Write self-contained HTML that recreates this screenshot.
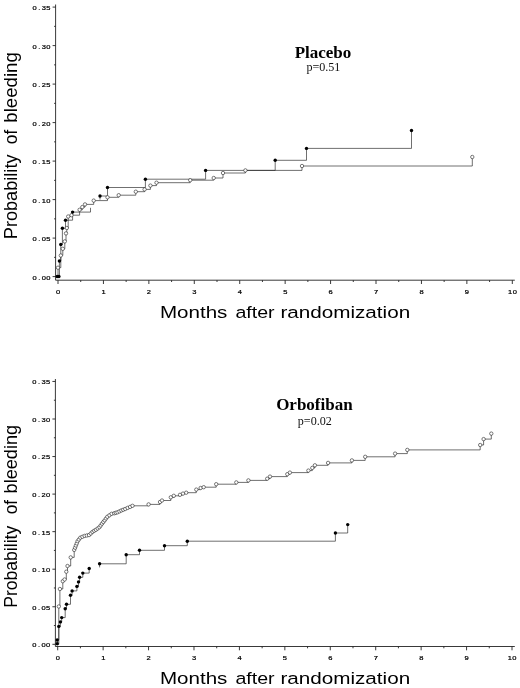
<!DOCTYPE html>
<html lang="en">
<head>
<meta charset="utf-8">
<title>Probability of bleeding: Placebo vs Orbofiban</title>
<style>
html,body{margin:0;padding:0;background:#fff;}
body{width:520px;height:688px;overflow:hidden;}
svg{display:block;filter:blur(.35px);}
.ax{fill:none;stroke:#222;stroke-width:.9;}
.ln{fill:none;stroke:#222;stroke-width:.65;}
.oc{fill:#fff;stroke:#222;stroke-width:.6;}
.fc{fill:#000;stroke:none;}
.tk{font-family:"Liberation Sans",Arial,Helvetica,sans-serif;font-size:5.8px;fill:#000;stroke:#000;stroke-width:.2px;text-anchor:middle;}
.ti{font-family:"Liberation Serif","Times New Roman",serif;font-weight:bold;font-size:17px;fill:#000;}
.pv{font-family:"Liberation Serif","Times New Roman",serif;font-size:12.1px;fill:#111;}
.xl{font-family:"Liberation Sans",Arial,Helvetica,sans-serif;font-size:17.4px;fill:#000;}
.yl{font-family:"Liberation Sans",Arial,Helvetica,sans-serif;font-size:18px;fill:#000;}
</style>
</head>
<body>
<svg width="520" height="688" viewBox="0 0 520 688">
<rect width="520" height="688" fill="#fff"/>
<g id="placebo">
<path class="ax" d="M55.6 4.5V280.2H514.8"/>
<path class="ax" d="M55.6 276.60h-3M55.6 257.35h-1.5M55.6 238.10h-3M55.6 218.85h-1.5M55.6 199.60h-3M55.6 180.35h-1.5M55.6 161.10h-3M55.6 141.85h-1.5M55.6 122.60h-3M55.6 103.35h-1.5M55.6 84.10h-3M55.6 64.85h-1.5M55.6 45.60h-3M55.6 26.35h-1.5M55.6 7.10h-3M58.00 280.2v3.8M80.72 280.2v1.8M103.43 280.2v3.8M126.15 280.2v1.8M148.86 280.2v3.8M171.58 280.2v1.8M194.29 280.2v3.8M217.00 280.2v1.8M239.72 280.2v3.8M262.44 280.2v1.8M285.15 280.2v3.8M307.86 280.2v1.8M330.58 280.2v3.8M353.29 280.2v1.8M376.01 280.2v3.8M398.72 280.2v1.8M421.44 280.2v3.8M444.15 280.2v1.8M466.87 280.2v3.8M489.58 280.2v1.8M512.30 280.2v3.8"/>
<text class="tk" transform="translate(0 279.50) scale(1.3 1)" x="26.62 30.15 33.69 37.23" y="0">0.00</text>
<text class="tk" transform="translate(0 241.00) scale(1.3 1)" x="26.62 30.15 33.69 37.23" y="0">0.05</text>
<text class="tk" transform="translate(0 202.50) scale(1.3 1)" x="26.62 30.15 33.69 37.23" y="0">0.10</text>
<text class="tk" transform="translate(0 164.00) scale(1.3 1)" x="26.62 30.15 33.69 37.23" y="0">0.15</text>
<text class="tk" transform="translate(0 125.50) scale(1.3 1)" x="26.62 30.15 33.69 37.23" y="0">0.20</text>
<text class="tk" transform="translate(0 87.00) scale(1.3 1)" x="26.62 30.15 33.69 37.23" y="0">0.25</text>
<text class="tk" transform="translate(0 48.50) scale(1.3 1)" x="26.62 30.15 33.69 37.23" y="0">0.30</text>
<text class="tk" transform="translate(0 10.00) scale(1.3 1)" x="26.62 30.15 33.69 37.23" y="0">0.35</text>
<text class="tk" transform="translate(0 293.5) scale(1.3 1)" x="44.69" y="0">0</text>
<text class="tk" transform="translate(0 293.5) scale(1.3 1)" x="79.64" y="0">1</text>
<text class="tk" transform="translate(0 293.5) scale(1.3 1)" x="114.58" y="0">2</text>
<text class="tk" transform="translate(0 293.5) scale(1.3 1)" x="149.53" y="0">3</text>
<text class="tk" transform="translate(0 293.5) scale(1.3 1)" x="184.48" y="0">4</text>
<text class="tk" transform="translate(0 293.5) scale(1.3 1)" x="219.42" y="0">5</text>
<text class="tk" transform="translate(0 293.5) scale(1.3 1)" x="254.37" y="0">6</text>
<text class="tk" transform="translate(0 293.5) scale(1.3 1)" x="289.32" y="0">7</text>
<text class="tk" transform="translate(0 293.5) scale(1.3 1)" x="324.26" y="0">8</text>
<text class="tk" transform="translate(0 293.5) scale(1.3 1)" x="359.21" y="0">9</text>
<text class="tk" transform="translate(0 293.5) scale(1.3 1)" x="392.35 395.96" y="0">10</text>
<path class="ln" d="M58.0 276.6H58.0V267.7H60.8V255.5H62.8V248.8H64.8V241.4H66.0V233.4H66.8V228.0H68.2V216.5H71.5V215.2H79.6V209.8H82.3V207.1H85.0V204.4H93.7V200.6H107.5V197.3H118.7V195.2H135.8V191.7H144.6V189.4H150.4V185.6H156.5V182.7H190.2V180.2H213.7V178.0H223.0V173.0H245.4V170.4H302.0V166.0H472.3V157.0"/>
<path class="ln" d="M58.0 276.6H57.2V276.5H58.9V276.5H59.4V261.0H60.8V244.5H62.4V228.2H65.5V220.2H72.6V212.1H90.5V207.8M100.0 199.6V196.0H107.5V187.5H145.4V179.2H205.6V170.4H275.2V160.3H306.5V148.4H411.5V130.5"/>
<circle class="oc" cx="58.0" cy="267.7" r="1.7"/>
<circle class="oc" cx="60.8" cy="255.5" r="1.7"/>
<circle class="oc" cx="62.8" cy="248.8" r="1.7"/>
<circle class="oc" cx="64.8" cy="241.4" r="1.7"/>
<circle class="oc" cx="66.0" cy="233.4" r="1.7"/>
<circle class="oc" cx="66.8" cy="228.0" r="1.7"/>
<circle class="oc" cx="68.2" cy="216.5" r="1.7"/>
<circle class="oc" cx="71.5" cy="215.2" r="1.7"/>
<circle class="oc" cx="79.6" cy="209.8" r="1.7"/>
<circle class="oc" cx="82.3" cy="207.1" r="1.7"/>
<circle class="oc" cx="85.0" cy="204.4" r="1.7"/>
<circle class="oc" cx="93.7" cy="200.6" r="1.7"/>
<circle class="oc" cx="107.5" cy="197.3" r="1.7"/>
<circle class="oc" cx="118.7" cy="195.2" r="1.7"/>
<circle class="oc" cx="135.8" cy="191.7" r="1.7"/>
<circle class="oc" cx="144.6" cy="189.4" r="1.7"/>
<circle class="oc" cx="150.4" cy="185.6" r="1.7"/>
<circle class="oc" cx="156.5" cy="182.7" r="1.7"/>
<circle class="oc" cx="190.2" cy="180.2" r="1.7"/>
<circle class="oc" cx="213.7" cy="178.0" r="1.7"/>
<circle class="oc" cx="223.0" cy="173.0" r="1.7"/>
<circle class="oc" cx="245.4" cy="170.4" r="1.7"/>
<circle class="oc" cx="302.0" cy="166.0" r="1.7"/>
<circle class="oc" cx="472.3" cy="157.0" r="1.7"/>
<circle class="fc" cx="57.2" cy="276.5" r="1.7"/>
<circle class="fc" cx="58.9" cy="276.5" r="1.7"/>
<circle class="fc" cx="59.4" cy="261.0" r="1.7"/>
<circle class="fc" cx="60.8" cy="244.5" r="1.7"/>
<circle class="fc" cx="62.4" cy="228.2" r="1.7"/>
<circle class="fc" cx="65.5" cy="220.2" r="1.7"/>
<circle class="fc" cx="72.6" cy="212.1" r="1.7"/>
<circle class="fc" cx="100.0" cy="196.0" r="1.7"/>
<circle class="fc" cx="107.5" cy="187.5" r="1.7"/>
<circle class="fc" cx="145.4" cy="179.2" r="1.7"/>
<circle class="fc" cx="205.6" cy="170.4" r="1.7"/>
<circle class="fc" cx="275.2" cy="160.3" r="1.7"/>
<circle class="fc" cx="306.5" cy="148.4" r="1.7"/>
<circle class="fc" cx="411.5" cy="130.5" r="1.7"/>
<text class="ti" text-anchor="middle" x="323" y="57.9">Placebo</text>
<text class="pv" text-anchor="middle" x="323.4" y="71.3">p=0.51</text>
<text class="xl" x="159.9" y="318.3" textLength="67.5" lengthAdjust="spacingAndGlyphs">Months</text>
<text class="xl" x="235.4" y="318.3" textLength="39.2" lengthAdjust="spacingAndGlyphs">after</text>
<text class="xl" x="280.4" y="318.3" textLength="129.8" lengthAdjust="spacingAndGlyphs">randomization</text>
<g transform="translate(17.4 239.2) rotate(-90)"><text class="yl" x="0" y="0" textLength="84.7" lengthAdjust="spacingAndGlyphs">Probability</text><text class="yl" x="95" y="0" textLength="14.5" lengthAdjust="spacingAndGlyphs">of</text><text class="yl" x="116.5" y="0" textLength="70.5" lengthAdjust="spacingAndGlyphs">bleeding</text></g>
</g>
<g id="orbofiban">
<path class="ax" d="M55.4 379V646.5H514.8"/>
<path class="ax" d="M55.4 644.30h-3M55.4 625.52h-1.5M55.4 606.75h-3M55.4 587.98h-1.5M55.4 569.20h-3M55.4 550.42h-1.5M55.4 531.65h-3M55.4 512.88h-1.5M55.4 494.10h-3M55.4 475.32h-1.5M55.4 456.55h-3M55.4 437.77h-1.5M55.4 419.00h-3M55.4 400.23h-1.5M55.4 381.45h-3M57.70 646.5v3.8M80.42 646.5v1.8M103.13 646.5v3.8M125.84 646.5v1.8M148.56 646.5v3.8M171.28 646.5v1.8M193.99 646.5v3.8M216.71 646.5v1.8M239.42 646.5v3.8M262.13 646.5v1.8M284.85 646.5v3.8M307.56 646.5v1.8M330.28 646.5v3.8M352.99 646.5v1.8M375.71 646.5v3.8M398.42 646.5v1.8M421.14 646.5v3.8M443.85 646.5v1.8M466.57 646.5v3.8M489.28 646.5v1.8M512.00 646.5v3.8"/>
<text class="tk" transform="translate(0 647.20) scale(1.3 1)" x="26.46 30.00 33.54 37.08" y="0">0.00</text>
<text class="tk" transform="translate(0 609.65) scale(1.3 1)" x="26.46 30.00 33.54 37.08" y="0">0.05</text>
<text class="tk" transform="translate(0 572.10) scale(1.3 1)" x="26.46 30.00 33.54 37.08" y="0">0.10</text>
<text class="tk" transform="translate(0 534.55) scale(1.3 1)" x="26.46 30.00 33.54 37.08" y="0">0.15</text>
<text class="tk" transform="translate(0 497.00) scale(1.3 1)" x="26.46 30.00 33.54 37.08" y="0">0.20</text>
<text class="tk" transform="translate(0 459.45) scale(1.3 1)" x="26.46 30.00 33.54 37.08" y="0">0.25</text>
<text class="tk" transform="translate(0 421.90) scale(1.3 1)" x="26.46 30.00 33.54 37.08" y="0">0.30</text>
<text class="tk" transform="translate(0 384.35) scale(1.3 1)" x="26.46 30.00 33.54 37.08" y="0">0.35</text>
<text class="tk" transform="translate(0 659.7) scale(1.3 1)" x="44.46" y="0">0</text>
<text class="tk" transform="translate(0 659.7) scale(1.3 1)" x="79.41" y="0">1</text>
<text class="tk" transform="translate(0 659.7) scale(1.3 1)" x="114.35" y="0">2</text>
<text class="tk" transform="translate(0 659.7) scale(1.3 1)" x="149.30" y="0">3</text>
<text class="tk" transform="translate(0 659.7) scale(1.3 1)" x="184.25" y="0">4</text>
<text class="tk" transform="translate(0 659.7) scale(1.3 1)" x="219.19" y="0">5</text>
<text class="tk" transform="translate(0 659.7) scale(1.3 1)" x="254.14" y="0">6</text>
<text class="tk" transform="translate(0 659.7) scale(1.3 1)" x="289.08" y="0">7</text>
<text class="tk" transform="translate(0 659.7) scale(1.3 1)" x="324.03" y="0">8</text>
<text class="tk" transform="translate(0 659.7) scale(1.3 1)" x="358.98" y="0">9</text>
<text class="tk" transform="translate(0 659.7) scale(1.3 1)" x="392.12 395.73" y="0">10</text>
<path class="ln" d="M57.7 644.3H58.8V606.5H59.9V589.0H62.8V581.2H64.6V579.5H66.3V571.7H67.5V566.0H70.7V557.4H74.2V549.9H75.1V547.7H75.9V545.5H76.8V543.4H77.6V541.2H78.9V539.5H80.3V537.7H82.4V536.8H84.6V535.9H86.8V535.5H89.0V535.1H90.8V533.5H92.5V531.9H94.2V530.8H95.9V529.8H97.7V528.5H99.4V527.2H100.7V525.5H102.0V523.7H103.3V522.0H104.7V520.3H106.0V518.5H107.3V516.8H109.4V515.3H111.6V513.8H114.2V513.3H115.8V512.8H117.5V512.3H119.4V511.4H121.3V510.5H123.2V509.8H125.2V509.0H127.6V507.9H130.1V506.9H132.5V505.8H148.6V504.4H160.0V502.0H162.0V500.5H170.8V497.3H173.8V495.8H180.0V494.8H183.0V493.6H186.2V492.7H196.3V489.6H200.6V488.0H203.7V487.2H216.2V484.2H236.3V482.4H248.4V480.4H267.2V478.7H270.0V476.6H287.3V474.2H289.9V472.6H308.4V470.6H312.3V467.9H314.9V465.3H328.1V462.9H351.9V460.4H365.2V456.8H395.1V453.6H407.3V449.9H480.2V445.0H483.6V439.1H491.3V433.6"/>
<path class="ln" d="M57.7 644.3H57.2V643.7H57.2V640.0H58.8V626.4H60.4V621.9H61.7V617.6H65.2V608.8H66.5V604.3H70.5V595.2H72.1V590.9H76.9V586.4H78.5V581.9H79.6V577.3H82.8V573.1H89.2V568.5M99.6 567.4V563.8H126.2V554.7H139.5V550.3H164.5V545.7H187.3V541.2H335.4V533.0H347.7V524.6"/>
<circle class="oc" cx="58.8" cy="606.5" r="1.7"/>
<circle class="oc" cx="59.9" cy="589.0" r="1.7"/>
<circle class="oc" cx="62.8" cy="581.2" r="1.7"/>
<circle class="oc" cx="64.6" cy="579.5" r="1.7"/>
<circle class="oc" cx="66.3" cy="571.7" r="1.7"/>
<circle class="oc" cx="67.5" cy="566.0" r="1.7"/>
<circle class="oc" cx="70.7" cy="557.4" r="1.7"/>
<circle class="oc" cx="74.2" cy="549.9" r="1.7"/>
<circle class="oc" cx="75.1" cy="547.7" r="1.7"/>
<circle class="oc" cx="75.9" cy="545.5" r="1.7"/>
<circle class="oc" cx="76.8" cy="543.4" r="1.7"/>
<circle class="oc" cx="77.6" cy="541.2" r="1.7"/>
<circle class="oc" cx="78.9" cy="539.5" r="1.7"/>
<circle class="oc" cx="80.3" cy="537.7" r="1.7"/>
<circle class="oc" cx="82.4" cy="536.8" r="1.7"/>
<circle class="oc" cx="84.6" cy="535.9" r="1.7"/>
<circle class="oc" cx="86.8" cy="535.5" r="1.7"/>
<circle class="oc" cx="89.0" cy="535.1" r="1.7"/>
<circle class="oc" cx="90.8" cy="533.5" r="1.7"/>
<circle class="oc" cx="92.5" cy="531.9" r="1.7"/>
<circle class="oc" cx="94.2" cy="530.8" r="1.7"/>
<circle class="oc" cx="95.9" cy="529.8" r="1.7"/>
<circle class="oc" cx="97.7" cy="528.5" r="1.7"/>
<circle class="oc" cx="99.4" cy="527.2" r="1.7"/>
<circle class="oc" cx="100.7" cy="525.5" r="1.7"/>
<circle class="oc" cx="102.0" cy="523.7" r="1.7"/>
<circle class="oc" cx="103.3" cy="522.0" r="1.7"/>
<circle class="oc" cx="104.7" cy="520.3" r="1.7"/>
<circle class="oc" cx="106.0" cy="518.5" r="1.7"/>
<circle class="oc" cx="107.3" cy="516.8" r="1.7"/>
<circle class="oc" cx="109.4" cy="515.3" r="1.7"/>
<circle class="oc" cx="111.6" cy="513.8" r="1.7"/>
<circle class="oc" cx="114.2" cy="513.3" r="1.7"/>
<circle class="oc" cx="115.8" cy="512.8" r="1.7"/>
<circle class="oc" cx="117.5" cy="512.3" r="1.7"/>
<circle class="oc" cx="119.4" cy="511.4" r="1.7"/>
<circle class="oc" cx="121.3" cy="510.5" r="1.7"/>
<circle class="oc" cx="123.2" cy="509.8" r="1.7"/>
<circle class="oc" cx="125.2" cy="509.0" r="1.7"/>
<circle class="oc" cx="127.6" cy="507.9" r="1.7"/>
<circle class="oc" cx="130.1" cy="506.9" r="1.7"/>
<circle class="oc" cx="132.5" cy="505.8" r="1.7"/>
<circle class="oc" cx="148.6" cy="504.4" r="1.7"/>
<circle class="oc" cx="160.0" cy="502.0" r="1.7"/>
<circle class="oc" cx="162.0" cy="500.5" r="1.7"/>
<circle class="oc" cx="170.8" cy="497.3" r="1.7"/>
<circle class="oc" cx="173.8" cy="495.8" r="1.7"/>
<circle class="oc" cx="180.0" cy="494.8" r="1.7"/>
<circle class="oc" cx="183.0" cy="493.6" r="1.7"/>
<circle class="oc" cx="186.2" cy="492.7" r="1.7"/>
<circle class="oc" cx="196.3" cy="489.6" r="1.7"/>
<circle class="oc" cx="200.6" cy="488.0" r="1.7"/>
<circle class="oc" cx="203.7" cy="487.2" r="1.7"/>
<circle class="oc" cx="216.2" cy="484.2" r="1.7"/>
<circle class="oc" cx="236.3" cy="482.4" r="1.7"/>
<circle class="oc" cx="248.4" cy="480.4" r="1.7"/>
<circle class="oc" cx="267.2" cy="478.7" r="1.7"/>
<circle class="oc" cx="270.0" cy="476.6" r="1.7"/>
<circle class="oc" cx="287.3" cy="474.2" r="1.7"/>
<circle class="oc" cx="289.9" cy="472.6" r="1.7"/>
<circle class="oc" cx="308.4" cy="470.6" r="1.7"/>
<circle class="oc" cx="312.3" cy="467.9" r="1.7"/>
<circle class="oc" cx="314.9" cy="465.3" r="1.7"/>
<circle class="oc" cx="328.1" cy="462.9" r="1.7"/>
<circle class="oc" cx="351.9" cy="460.4" r="1.7"/>
<circle class="oc" cx="365.2" cy="456.8" r="1.7"/>
<circle class="oc" cx="395.1" cy="453.6" r="1.7"/>
<circle class="oc" cx="407.3" cy="449.9" r="1.7"/>
<circle class="oc" cx="480.2" cy="445.0" r="1.7"/>
<circle class="oc" cx="483.6" cy="439.1" r="1.7"/>
<circle class="oc" cx="491.3" cy="433.6" r="1.7"/>
<circle class="fc" cx="57.2" cy="643.7" r="1.7"/>
<circle class="fc" cx="57.2" cy="640.0" r="1.7"/>
<circle class="fc" cx="58.8" cy="626.4" r="1.7"/>
<circle class="fc" cx="60.4" cy="621.9" r="1.7"/>
<circle class="fc" cx="61.7" cy="617.6" r="1.7"/>
<circle class="fc" cx="65.2" cy="608.8" r="1.7"/>
<circle class="fc" cx="66.5" cy="604.3" r="1.7"/>
<circle class="fc" cx="70.5" cy="595.2" r="1.7"/>
<circle class="fc" cx="72.1" cy="590.9" r="1.7"/>
<circle class="fc" cx="76.9" cy="586.4" r="1.7"/>
<circle class="fc" cx="78.5" cy="581.9" r="1.7"/>
<circle class="fc" cx="79.6" cy="577.3" r="1.7"/>
<circle class="fc" cx="82.8" cy="573.1" r="1.7"/>
<circle class="fc" cx="89.2" cy="568.5" r="1.7"/>
<circle class="fc" cx="99.6" cy="563.8" r="1.7"/>
<circle class="fc" cx="126.2" cy="554.7" r="1.7"/>
<circle class="fc" cx="139.5" cy="550.3" r="1.7"/>
<circle class="fc" cx="164.5" cy="545.7" r="1.7"/>
<circle class="fc" cx="187.3" cy="541.2" r="1.7"/>
<circle class="fc" cx="335.4" cy="533.0" r="1.7"/>
<circle class="fc" cx="347.7" cy="524.6" r="1.7"/>
<text class="ti" text-anchor="middle" x="314.4" y="410">Orbofiban</text>
<text class="pv" text-anchor="middle" x="314.79999999999995" y="425">p=0.02</text>
<text class="xl" x="159.9" y="684.4" textLength="67.5" lengthAdjust="spacingAndGlyphs">Months</text>
<text class="xl" x="235.4" y="684.4" textLength="39.2" lengthAdjust="spacingAndGlyphs">after</text>
<text class="xl" x="280.4" y="684.4" textLength="129.8" lengthAdjust="spacingAndGlyphs">randomization</text>
<g transform="translate(17.4 607.8) rotate(-90)"><text class="yl" x="0" y="0" textLength="82" lengthAdjust="spacingAndGlyphs">Probability</text><text class="yl" x="93.5" y="0" textLength="14.5" lengthAdjust="spacingAndGlyphs">of</text><text class="yl" x="114.4" y="0" textLength="68.5" lengthAdjust="spacingAndGlyphs">bleeding</text></g>
</g>
</svg>
</body>
</html>
